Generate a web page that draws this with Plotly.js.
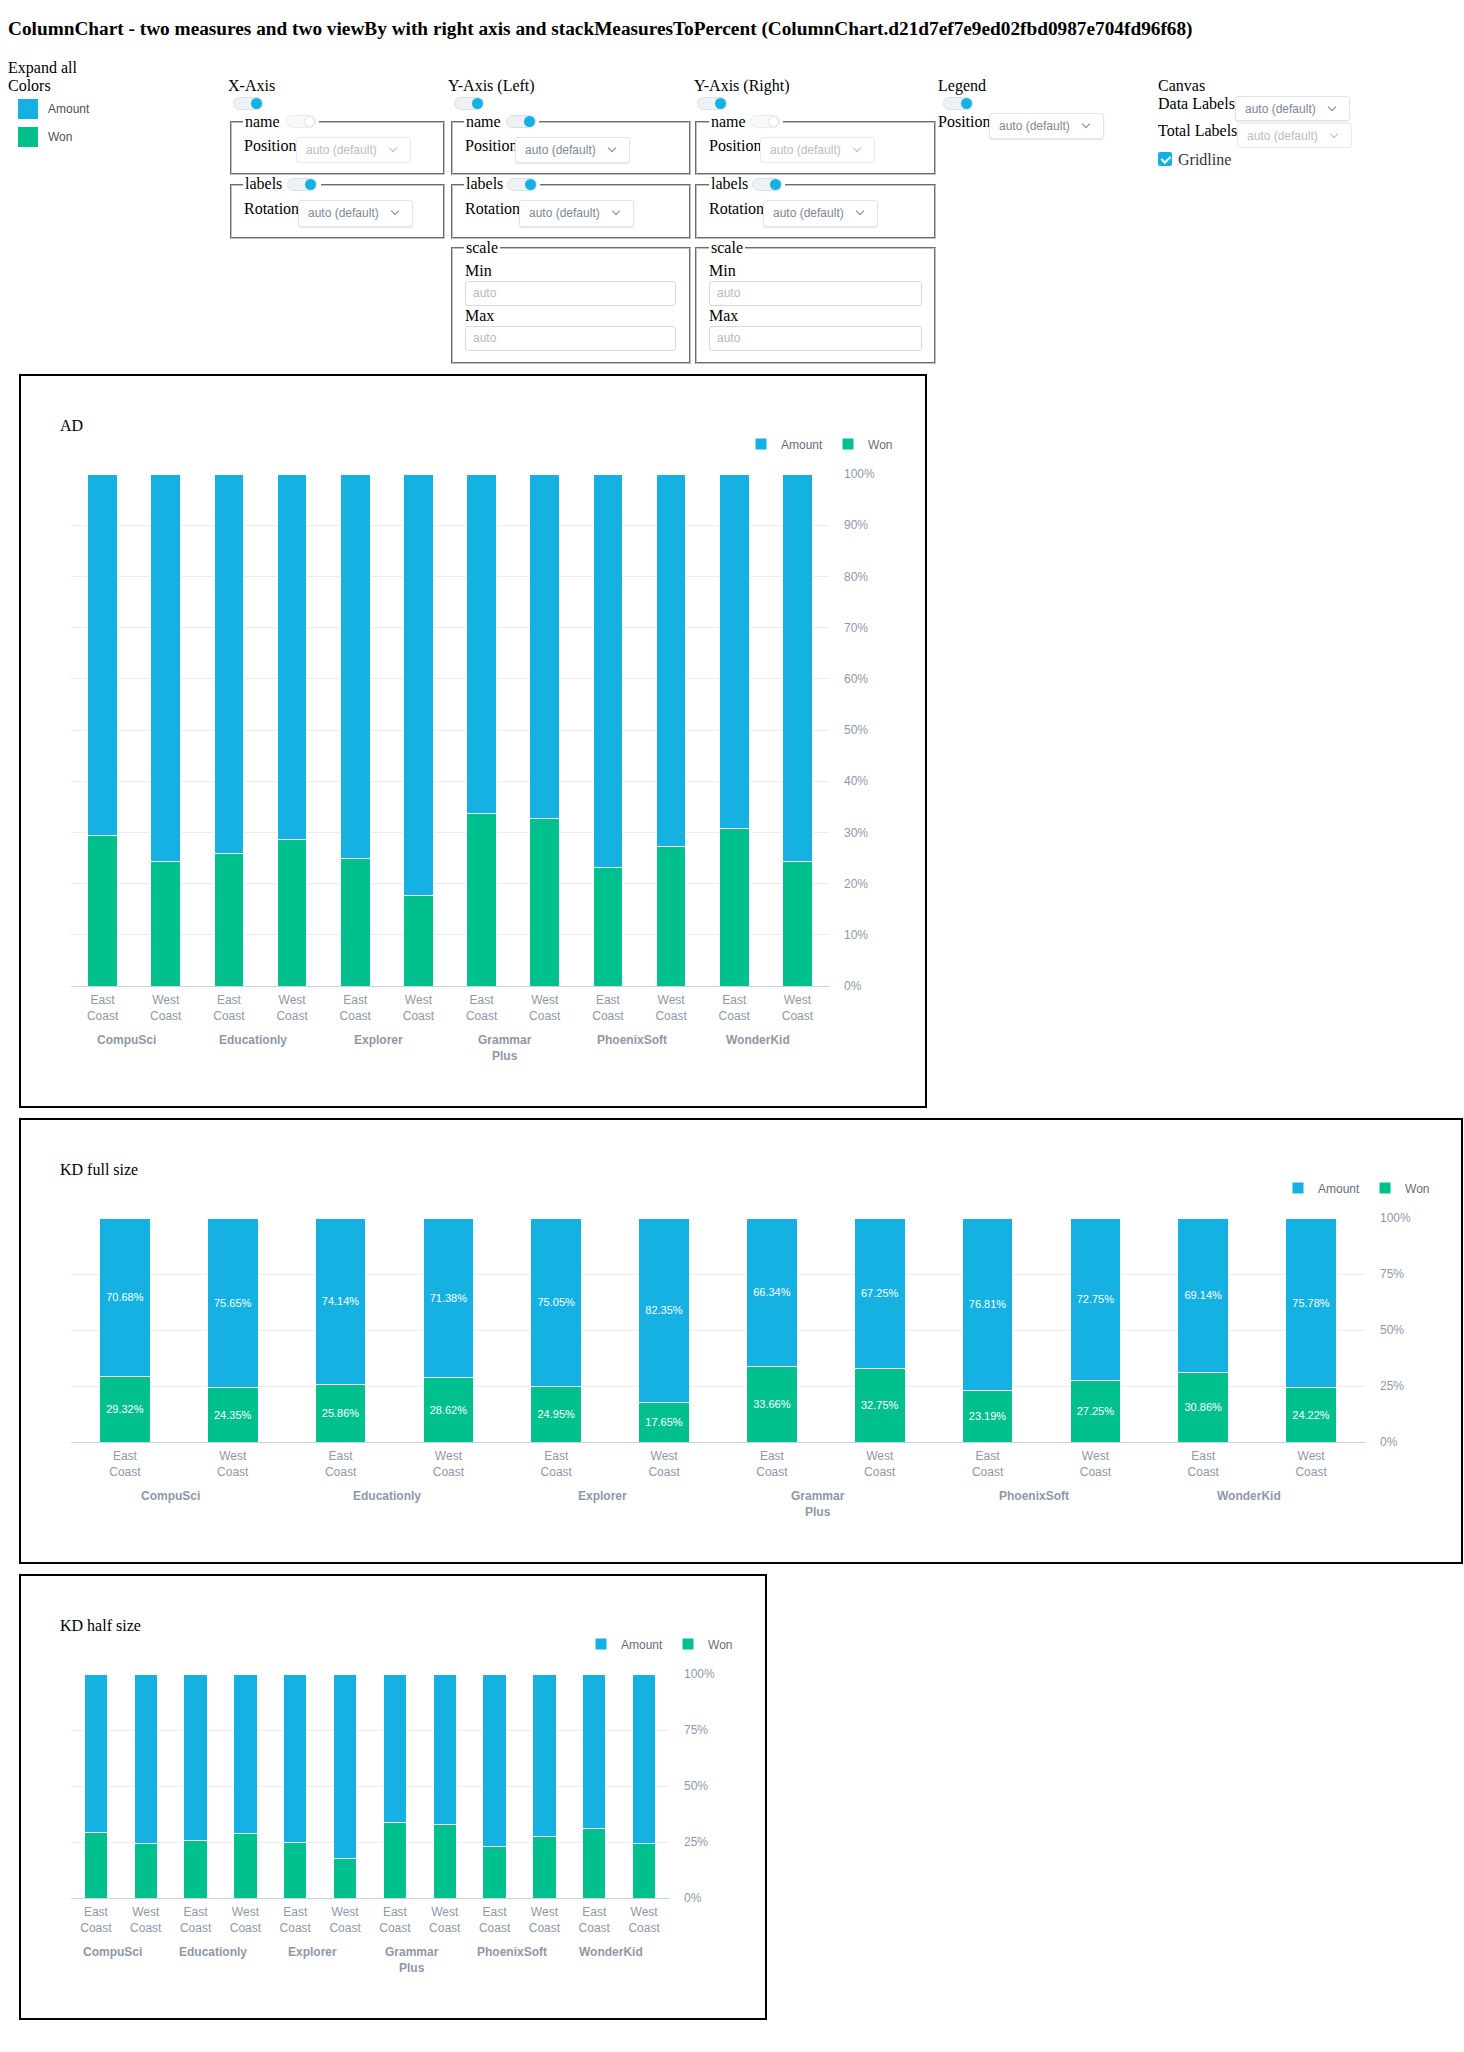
<!DOCTYPE html>
<html>
<head>
<meta charset="utf-8">
<script src="https://cdn.plot.ly/plotly-3.0.1.min.js"></script>
<style>
  html,body{margin:0;padding:0;background:#fff;}
  body{width:1464px;height:2052px;position:relative;font-family:"Liberation Serif","Times New Roman",serif;font-size:16px;color:#000;}
  .t{position:absolute;white-space:nowrap;line-height:18px;font-size:16px;}
  h3.title{position:absolute;left:8px;top:18px;margin:0;font-size:19.3px;font-weight:bold;white-space:nowrap;line-height:22px;}
  .sw{position:absolute;width:20px;height:20px;}
  .swl{position:absolute;font:12px "Liberation Sans",Arial,sans-serif;color:#4b515a;line-height:14px;}
  .tg{position:absolute;width:30px;height:13px;border-radius:7px;background:#eef2f5;border:1px solid #d9e0e7;box-sizing:border-box;}
  .tg::after{content:"";position:absolute;right:0px;top:0px;width:11px;height:11px;border-radius:50%;background:#14b1e2;}
  .tg.off{background:#f6f8fa;border-color:#e9edf1;}
  .tg.off::after{background:#fff;border:1px solid #dfe4e9;box-sizing:border-box;}
  .fs{position:absolute;border:2px groove rgb(192,192,192);box-sizing:border-box;}
  .lg{position:absolute;background:#fff;padding:0 2px;line-height:18px;font-size:16px;white-space:nowrap;}
  .wb{position:absolute;background:#fff;height:6px;}
  .sel{position:absolute;height:26px;border:1px solid #e0e5eb;border-radius:3px;box-shadow:0 1px 2px rgba(0,0,0,0.10);box-sizing:border-box;font:12px "Liberation Sans",Arial,sans-serif;color:#7d8797;line-height:24px;padding-left:9px;background:#fff;}
  .sel.dis{color:#b6bdc8;box-shadow:none;border-color:#e6eaef;}
  .sel::after{content:"";position:absolute;right:14px;top:7px;width:5px;height:5px;border-right:1.3px solid currentColor;border-bottom:1.3px solid currentColor;transform:rotate(45deg);}
  .inp{position:absolute;height:25px;border:1px solid #d4dbe4;border-radius:3px;box-sizing:border-box;font:12px "Liberation Sans",Arial,sans-serif;color:#b3bac5;line-height:23px;padding-left:7px;background:#fff;}
  .cb{position:absolute;width:14px;height:14px;border-radius:2px;background:#14b1e2;}
  .cb::after{content:"";position:absolute;left:4.5px;top:1.5px;width:3.5px;height:7px;border-right:2px solid #fff;border-bottom:2px solid #fff;transform:rotate(45deg);}
  .box{position:absolute;border:2px solid #000;}
  .chart{position:absolute;left:0;top:0;}
</style>
</head>
<body>
<h3 class="title">ColumnChart - two measures and two viewBy with right axis and stackMeasuresToPercent (ColumnChart.d21d7ef7e9ed02fbd0987e704fd96f68)</h3>

<div class="t" style="left:8px;top:59px;">Expand all</div>
<div class="t" style="left:8px;top:77px;">Colors</div>
<div class="sw" style="left:18px;top:99px;background:#14b1e2;"></div>
<div class="swl" style="left:48px;top:102px;">Amount</div>
<div class="sw" style="left:18px;top:127px;background:#00c08d;"></div>
<div class="swl" style="left:48px;top:130px;">Won</div>

<!-- X-Axis -->
<div class="t" style="left:228px;top:77px;">X-Axis</div>
<div class="tg" style="left:233px;top:97px;"></div>
<div class="fs" style="left:230px;top:121px;width:215px;height:54px;"></div>
<div class="lg" style="left:243px;top:113px;">name</div>
<div class="wb" style="left:282px;top:119px;width:37px;"></div>
<div class="tg off" style="left:286px;top:115px;"></div>
<div class="t" style="left:244px;top:137px;">Position</div>
<div class="sel dis" style="left:296px;top:137px;width:115px;">auto (default)</div>
<div class="fs" style="left:230px;top:184px;width:215px;height:55px;"></div>
<div class="lg" style="left:243px;top:175px;">labels</div>
<div class="wb" style="left:284px;top:182px;width:37px;"></div>
<div class="tg" style="left:287px;top:178px;"></div>
<div class="t" style="left:244px;top:200px;">Rotation</div>
<div class="sel" style="left:298px;top:200px;width:115px;height:27px;">auto (default)</div>

<!-- Y-Axis Left -->
<div class="t" style="left:448px;top:77px;">Y-Axis (Left)</div>
<div class="tg" style="left:454px;top:97px;"></div>
<div class="fs" style="left:451px;top:121px;width:240px;height:54px;"></div>
<div class="lg" style="left:464px;top:113px;">name</div>
<div class="wb" style="left:502px;top:119px;width:37px;"></div>
<div class="tg" style="left:506px;top:115px;"></div>
<div class="t" style="left:465px;top:137px;">Position</div>
<div class="sel" style="left:515px;top:137px;width:115px;">auto (default)</div>
<div class="fs" style="left:451px;top:184px;width:240px;height:55px;"></div>
<div class="lg" style="left:464px;top:175px;">labels</div>
<div class="wb" style="left:503px;top:182px;width:37px;"></div>
<div class="tg" style="left:507px;top:178px;"></div>
<div class="t" style="left:465px;top:200px;">Rotation</div>
<div class="sel" style="left:519px;top:200px;width:115px;height:27px;">auto (default)</div>
<div class="fs" style="left:451px;top:247px;width:240px;height:117px;"></div>
<div class="lg" style="left:464px;top:239px;">scale</div>
<div class="t" style="left:465px;top:262px;">Min</div>
<div class="inp" style="left:465px;top:281px;width:211px;">auto</div>
<div class="t" style="left:465px;top:307px;">Max</div>
<div class="inp" style="left:465px;top:326px;width:211px;">auto</div>

<!-- Y-Axis Right -->
<div class="t" style="left:694px;top:77px;">Y-Axis (Right)</div>
<div class="tg" style="left:697px;top:97px;"></div>
<div class="fs" style="left:695px;top:121px;width:241px;height:54px;"></div>
<div class="lg" style="left:709px;top:113px;">name</div>
<div class="wb" style="left:746px;top:119px;width:37px;"></div>
<div class="tg off" style="left:750px;top:115px;"></div>
<div class="t" style="left:709px;top:137px;">Position</div>
<div class="sel dis" style="left:760px;top:137px;width:115px;">auto (default)</div>
<div class="fs" style="left:695px;top:184px;width:241px;height:55px;"></div>
<div class="lg" style="left:709px;top:175px;">labels</div>
<div class="wb" style="left:748px;top:182px;width:37px;"></div>
<div class="tg" style="left:752px;top:178px;"></div>
<div class="t" style="left:709px;top:200px;">Rotation</div>
<div class="sel" style="left:763px;top:200px;width:115px;height:27px;">auto (default)</div>
<div class="fs" style="left:695px;top:247px;width:241px;height:117px;"></div>
<div class="lg" style="left:709px;top:239px;">scale</div>
<div class="t" style="left:709px;top:262px;">Min</div>
<div class="inp" style="left:709px;top:281px;width:213px;">auto</div>
<div class="t" style="left:709px;top:307px;">Max</div>
<div class="inp" style="left:709px;top:326px;width:213px;">auto</div>

<!-- Legend -->
<div class="t" style="left:938px;top:77px;">Legend</div>
<div class="tg" style="left:943px;top:97px;"></div>
<div class="t" style="left:938px;top:113px;">Position</div>
<div class="sel" style="left:989px;top:113px;width:115px;">auto (default)</div>

<!-- Canvas -->
<div class="t" style="left:1158px;top:77px;">Canvas</div>
<div class="t" style="left:1158px;top:95px;">Data Labels</div>
<div class="sel" style="left:1235px;top:96px;width:115px;height:25px;">auto (default)</div>
<div class="t" style="left:1158px;top:122px;">Total Labels</div>
<div class="sel dis" style="left:1237px;top:123px;width:115px;height:25px;">auto (default)</div>
<div class="cb" style="left:1158px;top:152px;"></div>
<div class="t" style="left:1178px;top:151px;color:#333;">Gridline</div>

<!-- Charts -->
<div class="box" style="left:19px;top:374px;width:904px;height:730px;"><div id="ad" class="chart"></div></div>
<div class="box" style="left:19px;top:1118px;width:1440px;height:442px;"><div id="kdfull" class="chart"></div></div>
<div class="box" style="left:19px;top:1574px;width:744px;height:442px;"><div id="kdhalf" class="chart"></div></div>

<script>
// ---- data ----
const companies = ["CompuSci", "Educationly", "Explorer", "Grammar Plus", "PhoenixSoft", "WonderKid"];
const regions = ["East Coast", "West Coast"];
const amountPct = [70.68, 75.65, 74.14, 71.38, 75.05, 82.35, 66.34, 67.25, 76.81, 72.75, 69.14, 75.78];
const wonPct = [29.32, 24.35, 25.86, 28.62, 24.95, 17.65, 33.66, 32.75, 23.19, 27.25, 30.86, 24.22];
const adTickVals = [0, 10, 20, 30, 40, 50, 60, 70, 80, 90, 100];
const adTickText = ["0%", "10%", "20%", "30%", "40%", "50%", "60%", "70%", "80%", "90%", "100%"];
const kdTickVals = [0, 25, 50, 75, 100];
const kdTickText = ["0%", "25%", "50%", "75%", "100%"];
const seriesNames = ["Amount", "Won"];

// ---- styling ----
const BLUE = "#14b1e2", GREEN = "#00c08d";
const AXIS_GRAY = "#8e98a8";
const SANS = '"Liberation Sans", Arial, sans-serif';
const SERIF = '"Liberation Serif", "Times New Roman", serif';

const xKeys = [];
const xTickText = [];
companies.forEach(c => regions.forEach(r => { xKeys.push(c + "|" + r); xTickText.push(r.replace(" ", "<br>")); }));

function makeChart(id, title, W, H, tickVals, tickText, showLabels, legendSwatchX) {
  const won = {
    type: "bar", name: seriesNames[1], x: xKeys, y: wonPct,
    marker: {color: GREEN, line: {color: "#fff", width: 1}},
    legendrank: 2, hoverinfo: "none"
  };
  const amt = {
    type: "bar", name: seriesNames[0], x: xKeys, y: amountPct,
    marker: {color: BLUE, line: {color: "#fff", width: 1}},
    legendrank: 1, hoverinfo: "none"
  };
  if (showLabels) {
    [won, amt].forEach(t => {
      t.texttemplate = "%{y:.2f}%";
      t.textposition = "inside";
      t.insidetextanchor = "middle";
      t.textangle = 0;
      t.insidetextfont = {color: "#fff", size: 11, family: SANS};
      t.constraintext = "none";
    });
  }
  const annotations = companies.map((c, i) => ({
    x: i * 2 + 0.5, xref: "x", y: 0, yref: "paper",
    yanchor: "top", yshift: -45, xshift: -8, showarrow: false,
    text: "<b>" + c.replace(" ", "<br>") + "</b>",
    font: {family: SANS, size: 12, color: AXIS_GRAY}
  }));
  const layout = {
    width: W, height: H,
    margin: {l: 50, r: 96, t: 98, b: 120, pad: 0},
    paper_bgcolor: "#fff", plot_bgcolor: "#fff",
    font: {family: SANS, size: 12, color: AXIS_GRAY},
    barmode: "stack", bargap: 0.53,
    title: {
      text: title, xref: "container", x: 39 / W, xanchor: "left",
      yref: "container", y: 1 - 49 / H, yanchor: "middle",
      font: {family: SERIF, size: 16, color: "#000"}
    },
    showlegend: true,
    legend: {
      orientation: "h", traceorder: "normal",
      xref: "container", x: (legendSwatchX - 19) / W, xanchor: "left",
      yref: "container", y: 1 - 68 / H, yanchor: "middle",
      font: {family: SANS, size: 12, color: "#666e7a"},
      itemclick: false, itemdoubleclick: false
    },
    xaxis: {
      type: "category", tickvals: xKeys, ticktext: xTickText,
      showline: true, linecolor: "#c6d1e2", linewidth: 1,
      showgrid: false, zeroline: false, ticks: "",
      ticklabelstandoff: 3,
      tickfont: {family: SANS, size: 12, color: AXIS_GRAY},
      tickangle: 0, fixedrange: true
    },
    yaxis: {
      side: "right", range: [0, 100], tickmode: "array", tickvals: tickVals, ticktext: tickText,
      showgrid: true, gridcolor: "#ebebeb", gridwidth: 1,
      zeroline: false, showline: false, ticks: "",
      ticklabelstandoff: 14,
      tickfont: {family: SANS, size: 12, color: AXIS_GRAY},
      fixedrange: true
    },
    annotations: annotations
  };
  Plotly.newPlot(id, [won, amt], layout, {displayModeBar: false, staticPlot: true});
}

// legendSwatchX: left of first legend swatch, measured from the chart's inner left edge
makeChart("ad", "AD", 904, 730, adTickVals, adTickText, false, 739);
makeChart("kdfull", "KD full size", 1440, 442, kdTickVals, kdTickText, true, 1276);
makeChart("kdhalf", "KD half size", 744, 442, kdTickVals, kdTickText, false, 579);
</script>
</body>
</html>
